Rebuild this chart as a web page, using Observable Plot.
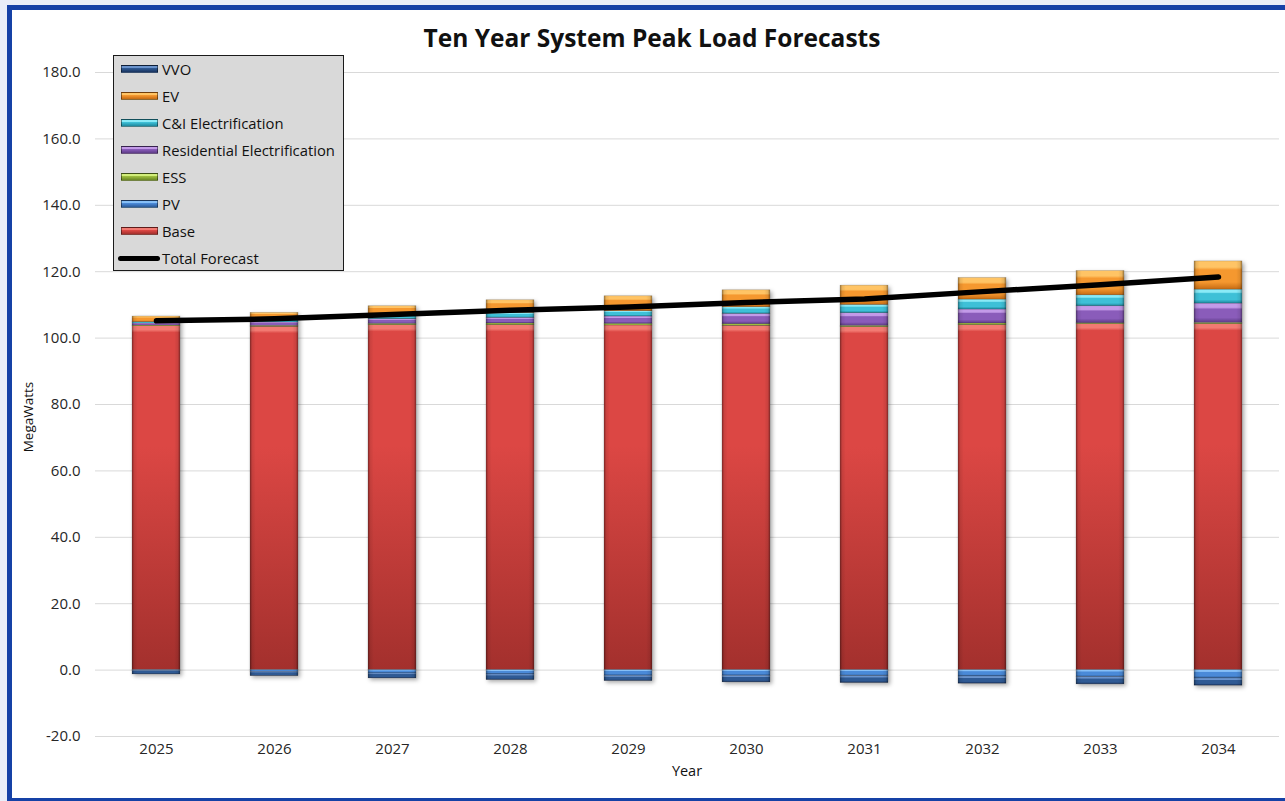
<!DOCTYPE html>
<html><head><meta charset="utf-8">
<script src="https://cdn.jsdelivr.net/npm/d3@7"></script>
<script src="https://cdn.jsdelivr.net/npm/@observablehq/plot@0.6"></script>
<style>
html,body{margin:0;padding:0;background:#e9eef8;width:1285px;height:801px;overflow:hidden;font-family:"Open Sans",Lato,sans-serif}
#frame{position:absolute;left:7px;top:5px;width:1300px;height:798px;box-sizing:border-box;border:5px solid #1541a6;background:#fff}
#chart{position:absolute;left:0;top:0}
#title{position:absolute;left:0;width:1304px;top:21px;text-align:center;font-weight:bold;font-size:24.5px;color:#111}
#legend{position:absolute;left:113px;top:55px;width:231px;height:216px;box-sizing:border-box;background:#d9d9d9;border:1.5px solid #1a1a1a}
.li{position:absolute;left:0;height:20px;width:230px}
.sw{position:absolute;left:7px;top:6px;width:37px;height:8px;box-sizing:border-box;border:1px solid rgba(0,0,0,0.45)}
.lt{position:absolute;left:48px;top:0;line-height:20px;font-size:14.8px;color:#111;white-space:nowrap}
.ln{position:absolute;left:4px;top:7.5px;width:42px;height:5px;border-radius:3px;background:#000}
</style></head>
<body>
<svg width="0" height="0" style="position:absolute">
<defs id="defs"></defs>
</svg>
<div id="frame"></div>
<div id="chart"></div>
<div id="title">Ten Year System Peak Load Forecasts</div>
<div id="legend"></div>
<script>
// ---- data ----
const years = ["2025","2026","2027","2028","2029","2030","2031","2032","2033","2034"];
const base  = [103.6, 103.4, 103.9, 103.9, 103.8, 103.7, 103.3, 103.9, 104.2, 104.2];
const pv    = [-0.2, -0.5, -1.0, -1.3, -1.7, -1.7, -1.8, -1.9, -2.1, -2.5];
const ess   = [0.2, 0.3, 0.4, 0.5, 0.5, 0.5, 0.4, 0.5, 0.3, 0.4];
const resEl = [0.6, 1.0, 1.4, 1.7, 2.2, 3.1, 3.8, 4.2, 5.1, 5.8];
const ciEl  = [0.4, 0.9, 1.4, 1.5, 1.6, 2.0, 2.5, 3.0, 3.3, 4.2];
const ev    = [1.7, 2.0, 2.5, 3.8, 4.5, 5.1, 5.8, 6.5, 7.3, 8.5];
const vvo   = [-1.1, -1.3, -1.5, -1.7, -1.6, -2.0, -2.1, -2.2, -2.2, -2.2];
const totalForecast = [105.2, 105.8, 107.1, 108.4, 109.4, 110.7, 111.8, 114.0, 116.1, 118.4];
const yTicks = [-20, 0, 20, 40, 60, 80, 100, 120, 140, 160, 180];

const seriesNames = ["Base","PV","ESS","Residential Electrification","C&I Electrification","EV","VVO"];
const seriesValues = [base, pv, ess, resEl, ciEl, ev, vvo];
const legendOrder = ["VVO","EV","C&I Electrification","Residential Electrification","ESS","PV","Base"];

// gradient colours: [highlight, main, dark]
const palette = {
  "Base": ["#f27a72","#dc4744","#a3302d"],
  "PV": ["#86bff7","#4a8ad8","#2c5a98"],
  "ESS": ["#d2ee7a","#9dbd3d","#6b8826"],
  "Residential Electrification": ["#c39ae8","#8a5cba","#5e3c88"],
  "C&I Electrification": ["#8aeaf7","#3ec0d7","#1e889e"],
  "EV": ["#ffc465","#f5982f","#c66b13"],
  "VVO": ["#6a93cc","#2f5a94","#1a3460"]
};
const gid = n => "g_" + n.replace(/[^A-Za-z]/g, "");

// build gradients
const defs = d3.select("#defs");
for (const n of seriesNames) {
  const [hi, mid, dk] = palette[n];
  const g = defs.append("linearGradient").attr("id", gid(n)).attr("x1",0).attr("y1",0).attr("x2",0).attr("y2",1);
  const tall = n === "Base";
  const stops = tall
    ? [[0,hi],[0.012,hi],[0.02,mid],[0.35,mid],[1,dk]]
    : [[0,hi],[0.22,hi],[0.32,mid],[0.75,mid],[1,dk]];
  for (const [o,c] of stops) g.append("stop").attr("offset", o).attr("stop-color", c);
}
const side = defs.append("linearGradient").attr("id","g_side").attr("x1",0).attr("y1",0).attr("x2",1).attr("y2",0);
[[0,0.35],[0.05,0.08],[0.12,0],[0.88,0],[0.95,0.08],[1,0.35]].forEach(([o,a]) =>
  side.append("stop").attr("offset",o).attr("stop-color","#000").attr("stop-opacity",a));

// tidy rows
const rows = [];
seriesNames.forEach((n, si) => years.forEach((y, i) => rows.push({year: y, series: n, value: seriesValues[si][i]})));
const lineRows = years.map((y, i) => ({year: y, total: totalForecast[i]}));

const chart = Plot.plot({
  width: 1285, height: 801,
  marginLeft: 95, marginRight: 6, marginTop: 72, marginBottom: 65,
  style: {background: "transparent", fontFamily: "'Open Sans', Lato, sans-serif", fontSize: "15px", color: "#262626", overflow: "visible"},
  x: {type: "band", domain: years, paddingInner: 0.595, paddingOuter: 0.2975, label: null, tickSize: 0, tickPadding: 7},
  y: {domain: [-20, 180], ticks: yTicks, tickFormat: d => d.toFixed(1), label: null, tickSize: 0, tickPadding: 15},
  color: {domain: seriesNames, range: seriesNames.map(n => `url(#${gid(n)})`)},
  marks: [
    Plot.ruleY(yTicks, {stroke: "#d9d9d9", strokeWidth: 1}),
    Plot.barY(rows, {x: "year", y: "value", fill: "series", stroke: "#000", strokeOpacity: 0.25, strokeWidth: 0.6}),
    Plot.barY(rows, {x: "year", y: "value", fill: "url(#g_side)"}),
    Plot.line(lineRows, {x: "year", y: "total", stroke: "#000", strokeWidth: 5.5, strokeLinecap: "round", strokeLinejoin: "round"})
  ]
});
document.getElementById("chart").appendChild(chart);
const svg = d3.select(chart);
svg.selectAll('g[aria-label="bar"]').filter((d, i) => i === 0)
  .style("filter", "drop-shadow(2px 2px 2px rgba(0,0,0,0.35))");
// axis titles
svg.append("text").attr("transform", "translate(29,417) rotate(-90)").attr("text-anchor", "middle")
  .attr("dominant-baseline", "middle").attr("font-size", 13.5).attr("fill", "#111").text("MegaWatts");
svg.append("text").attr("x", 687).attr("y", 772).attr("text-anchor", "middle")
  .attr("dominant-baseline", "middle").attr("font-size", 14.5).attr("fill", "#111").text("Year");

// legend
const lg = d3.select("#legend");
legendOrder.forEach((n, i) => {
  const it = lg.append("div").attr("class","li").style("top", (3 + i * 27) + "px");
  it.append("div").attr("class","sw").style("background", `linear-gradient(${palette[n][0]} 0%, ${palette[n][0]} 25%, ${palette[n][1]} 40%, ${palette[n][2]} 100%)`);
  it.append("div").attr("class","lt").text(n);
});
const it = lg.append("div").attr("class","li").style("top", (3 + 7 * 27) + "px");
it.append("div").attr("class","ln");
it.append("div").attr("class","lt").text("Total Forecast");
</script>
</body></html>
